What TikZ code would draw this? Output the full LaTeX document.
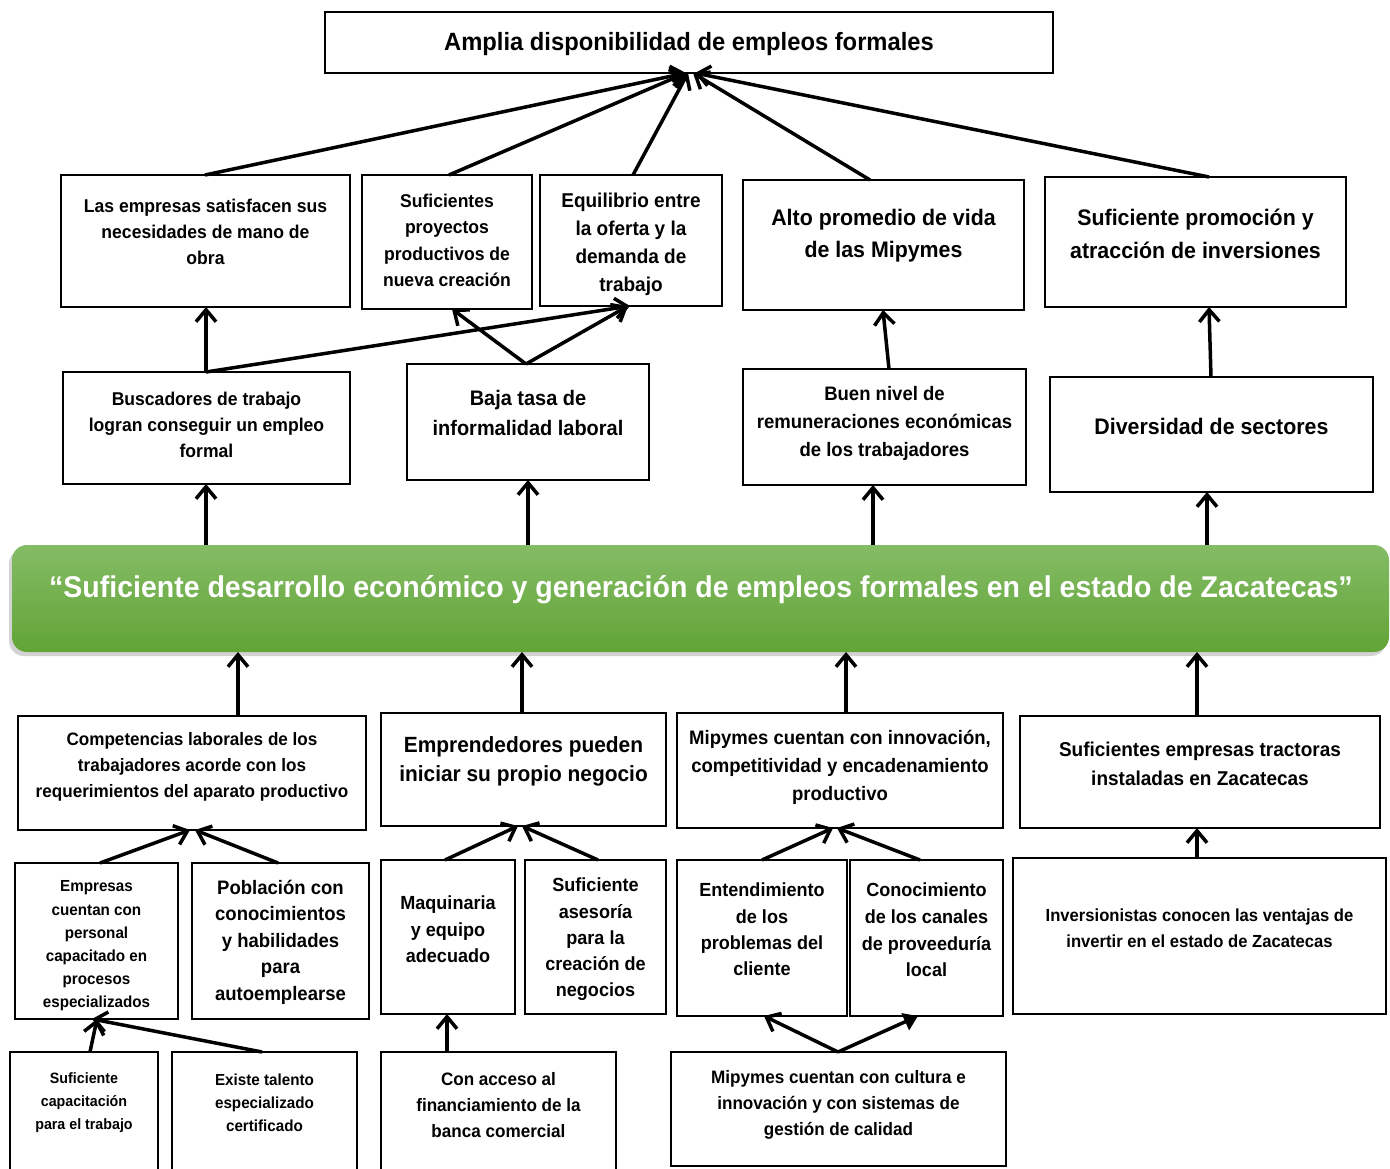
\documentclass[tikz,border=0pt]{standalone}
\usepackage{fontspec}
\setmainfont{Liberation Sans}[FakeStretch=0.95]
\usetikzlibrary{arrows.meta,shadows}
\newcommand\bx[9]{%
  \node[box, anchor=north west, minimum width={(#4-#2)*1pt}, minimum height={(#5-#3)*1pt}] (#1) at (#2,#3) {};
  \node[lbl, font=\bfseries\fontsize{#7}{#8}\selectfont] (#1-t) at ({(#2+#4)/2},#6) {#9};
}
\begin{document}
\begin{tikzpicture}[x=1pt,y=-1pt,
  box/.style={draw, line width=2.5pt, fill=white, inner sep=0pt, outer sep=0pt},
  lbl/.style={align=center, inner sep=0pt, yshift=-2pt},
  arr/.style={line width=3.5pt, -{Straight Barb[length=12pt,width=20pt]}},
  arrf/.style={line width=3.5pt, -{Triangle[length=14pt,width=18pt]}},
  banner/.style={rounded corners=15pt, top color={rgb,255:red,132;green,188;blue,102}, bottom color={rgb,255:red,98;green,164;blue,54}, draw=none, inner sep=0pt, outer sep=0pt,
    drop shadow={shadow xshift=-3pt, shadow yshift=-4pt, opacity=0.35}}]
\useasboundingbox (0,0) rectangle (1390,1169);

% banner
\node[banner, anchor=north west, minimum width=1377pt, minimum height=107pt] (G) at (12,545) {};
\node[lbl, text=white, font=\bfseries\fontsize{30}{36}\selectfont] (G-t) at (701,588) {“Suficiente desarrollo económico y generación de empleos formales en el estado de Zacatecas”};

% boxes
\bx{T}{325}{12}{1053}{73}{42}{25}{30}{Amplia disponibilidad de empleos formales}
\bx{A1}{61}{175}{350}{307}{230}{18.5}{26}{Las empresas satisfacen sus\\necesidades de mano de\\obra}
\bx{A2}{362}{175}{532}{309}{238.5}{18.5}{26.3}{Suficientes\\proyectos\\productivos de\\nueva creación}
\bx{A3}{540}{175}{722}{306}{242}{20}{28}{Equilibrio entre\\la oferta y la\\demanda de\\trabajo}
\bx{A4}{743}{180}{1024}{310}{234}{22.5}{32}{Alto promedio de vida\\de las Mipymes}
\bx{A5}{1045}{177}{1346}{307}{231.5}{22.5}{33}{Suficiente promoción y\\atracción de inversiones}
\bx{B1}{63}{372}{350}{484}{423}{18.5}{26}{Buscadores de trabajo\\logran conseguir un empleo\\formal}
\bx{B2}{407}{364}{649}{480}{411}{21}{30}{Baja tasa de\\informalidad laboral}
\bx{B3}{743}{369}{1026}{485}{421}{19.5}{28}{Buen nivel de\\remuneraciones económicas\\de los trabajadores}
\bx{B4}{1050}{377}{1373}{492}{424}{22.5}{30}{Diversidad de sectores}
\bx{C1}{18}{716}{366}{830}{765}{18}{26}{Competencias laborales de los\\trabajadores acorde con los\\requerimientos del aparato productivo}
\bx{C2}{381}{713}{666}{826}{759.5}{22}{29}{Emprendedores pueden\\iniciar su propio negocio}
\bx{C3}{677}{713}{1003}{828}{765}{19.5}{28}{Mipymes cuentan con innovación,\\competitividad y encadenamiento\\productivo}
\bx{C4}{1020}{716}{1380}{828}{761.5}{20}{29}{Suficientes empresas tractoras\\instaladas en Zacatecas}
\bx{D1}{15}{863}{178}{1019}{944}{16}{23.2}{Empresas\\cuentan con\\personal\\capacitado en\\procesos\\especializados}
\bx{D2}{192}{863}{369}{1019}{940}{19.5}{26.5}{Población con\\conocimientos\\y habilidades\\para\\autoemplearse}
\bx{D3}{381}{860}{515}{1014}{927.5}{19}{26.5}{Maquinaria\\y equipo\\adecuado}
\bx{D4}{525}{860}{666}{1014}{937.5}{19}{26.3}{Suficiente\\asesoría\\para la\\creación de\\negocios}
\bx{D5}{677}{860}{847}{1016}{927.5}{19}{26.3}{Entendimiento\\de los\\problemas del\\cliente}
\bx{D6}{850}{860}{1003}{1016}{928}{19}{26.7}{Conocimiento\\de los canales\\de proveeduría\\local}
\bx{D7}{1013}{858}{1386}{1014}{926}{17.5}{26}{Inversionistas conocen las ventajas de\\invertir en el estado de Zacatecas}
\bx{E1}{10}{1052}{158}{1180}{1101}{15}{23}{Suficiente\\capacitación\\para el trabajo}
\bx{E2}{172}{1052}{357}{1180}{1101}{16}{23}{Existe talento\\especializado\\certificado}
\bx{E3}{381}{1052}{616}{1180}{1103}{18}{26}{Con acceso al\\financiamiento de la\\banca comercial}
\bx{E4}{671}{1052}{1006}{1166}{1103}{18}{26}{Mipymes cuentan con cultura e\\innovación y con sistemas de\\gestión de calidad}

% arrows to top box
\draw[arr] ([xshift=144pt]A1.north west) -- ([xshift=361pt]T.south west);
\draw[arr] ([xshift=87pt]A2.north west) -- ([xshift=361pt]T.south west);
\draw[arr] ([xshift=93pt]A3.north west) -- ([xshift=363pt]T.south west);
\draw[arr] ([xshift=127pt]A4.north west) -- ([xshift=368pt]T.south west);
\draw[arr] ([xshift=164pt]A5.north west) -- ([xshift=370pt]T.south west);
% row B to row A
\draw[arr] ([xshift=143pt]B1.north west) -- ([xshift=145pt]A1.south west);
\draw[arr] ([xshift=143pt]B1.north west) -- ([xshift=90pt]A3.south west);
\draw[arr] ([xshift=119pt]B2.north west) -- ([xshift=90pt]A2.south west);
\draw[arr] ([xshift=119pt]B2.north west) -- ([xshift=88pt]A3.south west);
\draw[arr] ([xshift=146pt]B3.north west) -- ([xshift=140pt]A4.south west);
\draw[arr] ([xshift=161pt]B4.north west) -- ([xshift=164pt]A5.south west);
% banner to row B
\draw[arr] ([xshift=194pt]G.north west) -- ([xshift=143pt]B1.south west);
\draw[arr] ([xshift=516pt]G.north west) -- ([xshift=121pt]B2.south west);
\draw[arr] ([xshift=861pt]G.north west) -- ([xshift=130pt]B3.south west);
\draw[arr] ([xshift=1195pt]G.north west) -- ([xshift=157pt]B4.south west);
% row C to banner
\draw[arr] ([xshift=220pt]C1.north west) -- ([xshift=226pt]G.south west);
\draw[arr] ([xshift=141pt]C2.north west) -- ([xshift=510pt]G.south west);
\draw[arr] ([xshift=169pt]C3.north west) -- ([xshift=834pt]G.south west);
\draw[arr] ([xshift=177pt]C4.north west) -- ([xshift=1185pt]G.south west);
% row D to row C
\draw[arr] ([xshift=85pt]D1.north west) -- ([xshift=172pt]C1.south west);
\draw[arr] ([xshift=86pt]D2.north west) -- ([xshift=177pt]C1.south west);
\draw[arr] ([xshift=64pt]D3.north west) -- ([xshift=137pt]C2.south west);
\draw[arr] ([xshift=73pt]D4.north west) -- ([xshift=141pt]C2.south west);
\draw[arr] ([xshift=85pt]D5.north west) -- ([xshift=156pt]C3.south west);
\draw[arr] ([xshift=70pt]D6.north west) -- ([xshift=160pt]C3.south west);
\draw[arr] ([xshift=184pt]D7.north west) -- ([xshift=177pt]C4.south west);
% row E to row D
\draw[arr] ([xshift=80pt]E1.north west) -- ([xshift=82pt]D1.south west);
\draw[arr] ([xshift=90pt]E2.north west) -- ([xshift=77pt]D1.south west);
\draw[arr] ([xshift=66pt]E3.north west) -- ([xshift=66pt]D3.south west);
\draw[arr] ([xshift=167pt]E4.north west) -- ([xshift=87pt]D5.south west);
\draw[arrf] ([xshift=167pt]E4.north west) -- ([xshift=68pt]D6.south west);
\end{tikzpicture}
\end{document}
